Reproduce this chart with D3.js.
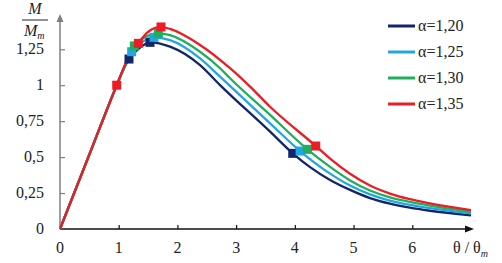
<!DOCTYPE html>
<html><head><meta charset="utf-8">
<script src="https://cdn.jsdelivr.net/npm/d3@7"></script>
<style>html,body{margin:0;padding:0;background:#fff;}svg{display:block;}
text{font-family:"Liberation Serif","Tinos","Times New Roman","DejaVu Serif",serif;}</style>
</head><body>
<svg id="c" width="502" height="263"></svg>
<script>
// ---- data ----
const seriesNames = ["α=1,20", "α=1,25", "α=1,30", "α=1,35"];
const seriesColors = ["#13256b", "#23a6e0", "#1fae5c", "#ec1c24"];

const x120 = [0, 0.5, 0.966, 1.08, 1.175, 1.363, 1.533, 1.874, 2.385, 2.726, 3.578, 3.964, 4.259, 4.6, 4.94, 5.28, 5.62, 5.96, 6.3, 7.0];
const y120 = [0, 0.518, 1.0, 1.11, 1.182, 1.262, 1.298, 1.268, 1.140, 1.001, 0.677, 0.526, 0.430, 0.341, 0.272, 0.215, 0.176, 0.148, 0.127, 0.095];
const x125 = [0, 0.5, 0.966, 1.08, 1.22, 1.40, 1.601, 1.874, 2.385, 2.726, 3.578, 4.089, 4.6, 4.94, 5.28, 5.62, 5.96, 6.3, 7.0];
const y125 = [0, 0.518, 1.0, 1.11, 1.233, 1.30, 1.333, 1.314, 1.187, 1.059, 0.735, 0.542, 0.385, 0.302, 0.241, 0.197, 0.167, 0.145, 0.108];
const x130 = [0, 0.5, 0.966, 1.08, 1.266, 1.45, 1.675, 1.874, 2.385, 2.726, 2.896, 3.578, 4.213, 4.6, 4.94, 5.28, 5.62, 5.96, 6.3, 7.0];
const y130 = [0, 0.518, 1.0, 1.11, 1.273, 1.335, 1.361, 1.349, 1.233, 1.118, 1.048, 0.793, 0.554, 0.432, 0.338, 0.268, 0.220, 0.188, 0.163, 0.120];
const x135 = [0, 0.5, 0.966, 1.15, 1.334, 1.504, 1.72, 1.874, 2.385, 2.896, 3.237, 3.578, 4.356, 4.6, 4.94, 5.28, 5.62, 5.96, 6.3, 7.0];
const y135 = [0, 0.518, 1.0, 1.18, 1.291, 1.372, 1.405, 1.391, 1.280, 1.118, 0.990, 0.850, 0.577, 0.489, 0.384, 0.302, 0.246, 0.207, 0.178, 0.132];

const mx120 = [1.175, 1.533, 3.964], my120 = [1.182, 1.298, 0.526];
const mx125 = [1.22, 1.601, 4.089],  my125 = [1.233, 1.333, 0.542];
const mx130 = [1.266, 1.675, 4.213], my130 = [1.273, 1.361, 0.554];
const mx135 = [0.966, 1.334, 1.72, 4.356], my135 = [1.0, 1.291, 1.405, 0.577];

const xTicks = [0, 1, 2, 3, 4, 5, 6];
const yTicks = [0, 0.25, 0.5, 0.75, 1, 1.25];
const yTickLabels = ["0", "0,25", "0,5", "0,75", "1", "1,25"];

const lineX = [x120, x125, x130, x135];
const lineY = [y120, y125, y130, y135];
const markX = [mx120, mx125, mx130, mx135];
const markY = [my120, my125, my130, my135];

// ---- drawing ----
const svg = d3.select("#c");
const x = d3.scaleLinear().domain([0, 7]).range([60, 471]);
const y = d3.scaleLinear().domain([0, 1.25]).range([229, 49.25]);

// y axis (gray)
svg.append("line").attr("x1", x(0)).attr("x2", x(0)).attr("y1", y(0)).attr("y2", 20)
  .attr("stroke", "#7f7f7f").attr("stroke-width", 1.5);
svg.append("path").attr("d", `M${x(0)},14 L${x(0)-3.5},22 L${x(0)+3.5},22 Z`).attr("fill", "#7f7f7f");
const yAxis = d3.axisRight(y).tickValues(yTicks.slice(1)).tickSize(5).tickFormat("");
const yg = svg.append("g").attr("transform", `translate(${x(0)},0)`).call(yAxis);
yg.select(".domain").remove();
yg.selectAll("line").attr("stroke", "#7f7f7f").attr("stroke-width", 1.2);
svg.selectAll(".ylab").data(yTicks).enter().append("text")
  .attr("x", 44).attr("y", d => y(d) + 5).attr("text-anchor", "end")
  .attr("font-size", 16).attr("fill", "#222")
  .text((d, i) => yTickLabels[i]);

// x axis (black)
svg.append("line").attr("x1", x(0)).attr("x2", 468).attr("y1", y(0)).attr("y2", y(0))
  .attr("stroke", "#111").attr("stroke-width", 1.5);
svg.append("path").attr("d", `M474,${y(0)} L465,${y(0)-3.5} L465,${y(0)+3.5} Z`).attr("fill", "#111");
const xAxis = d3.axisTop(x).tickValues(xTicks.slice(1)).tickSize(4).tickFormat("");
const xg = svg.append("g").attr("transform", `translate(0,${y(0)})`).call(xAxis);
xg.select(".domain").remove();
xg.selectAll("line").attr("stroke", "#111").attr("stroke-width", 1.2);
svg.selectAll(".xlab").data(xTicks).enter().append("text")
  .attr("x", d => x(d)).attr("y", 253).attr("text-anchor", "middle")
  .attr("font-size", 16).attr("fill", "#222")
  .text(d => d);
// x axis title θ / θm
const xt = svg.append("text").attr("x", 453).attr("y", 253)
  .attr("font-size", 16).attr("fill", "#222");
xt.append("tspan").text("θ / θ");
xt.append("tspan").attr("dy", 4).attr("font-size", 10).attr("font-style", "italic").text("m");

// y axis title M / Mm
svg.append("text").attr("x", 35).attr("y", 14).attr("text-anchor", "middle")
  .attr("font-size", 16).attr("font-style", "italic").attr("fill", "#222").text("M");
svg.append("line").attr("x1", 22).attr("x2", 48).attr("y1", 20).attr("y2", 20).attr("stroke", "#222").attr("stroke-width", 1);
const yt = svg.append("text").attr("x", 24).attr("y", 36)
  .attr("font-size", 16).attr("font-style", "italic").attr("fill", "#222");
yt.append("tspan").text("M");
yt.append("tspan").attr("dy", 3).attr("font-size", 10).text("m");

// curves
const line = d3.line().x(d => x(d[0])).y(d => y(d[1])).curve(d3.curveMonotoneX);
for (let i = 0; i < 4; i++) {
  const pts = lineX[i].map((v, j) => [v, lineY[i][j]]);
  svg.append("path").attr("d", line(pts)).attr("fill", "none")
    .attr("stroke", seriesColors[i]).attr("stroke-width", 2.3);
}
// markers
const ms = 9;
for (let i = 0; i < 4; i++) {
  const pts = markX[i].map((v, j) => [v, markY[i][j]]);
  svg.selectAll(null).data(pts).enter().append("rect")
    .attr("x", d => x(d[0]) - ms / 2).attr("y", d => y(d[1]) - ms / 2)
    .attr("width", ms).attr("height", ms).attr("fill", seriesColors[i]);
}

// legend
const legY = [26, 52, 78, 104];
seriesNames.forEach((name, i) => {
  svg.append("line").attr("x1", 388).attr("x2", 415).attr("y1", legY[i]).attr("y2", legY[i])
    .attr("stroke", seriesColors[i]).attr("stroke-width", 3);
  svg.append("text").attr("x", 418).attr("y", legY[i] + 5)
    .attr("font-size", 16).attr("fill", "#222").text(name);
});
</script>
</body></html>
